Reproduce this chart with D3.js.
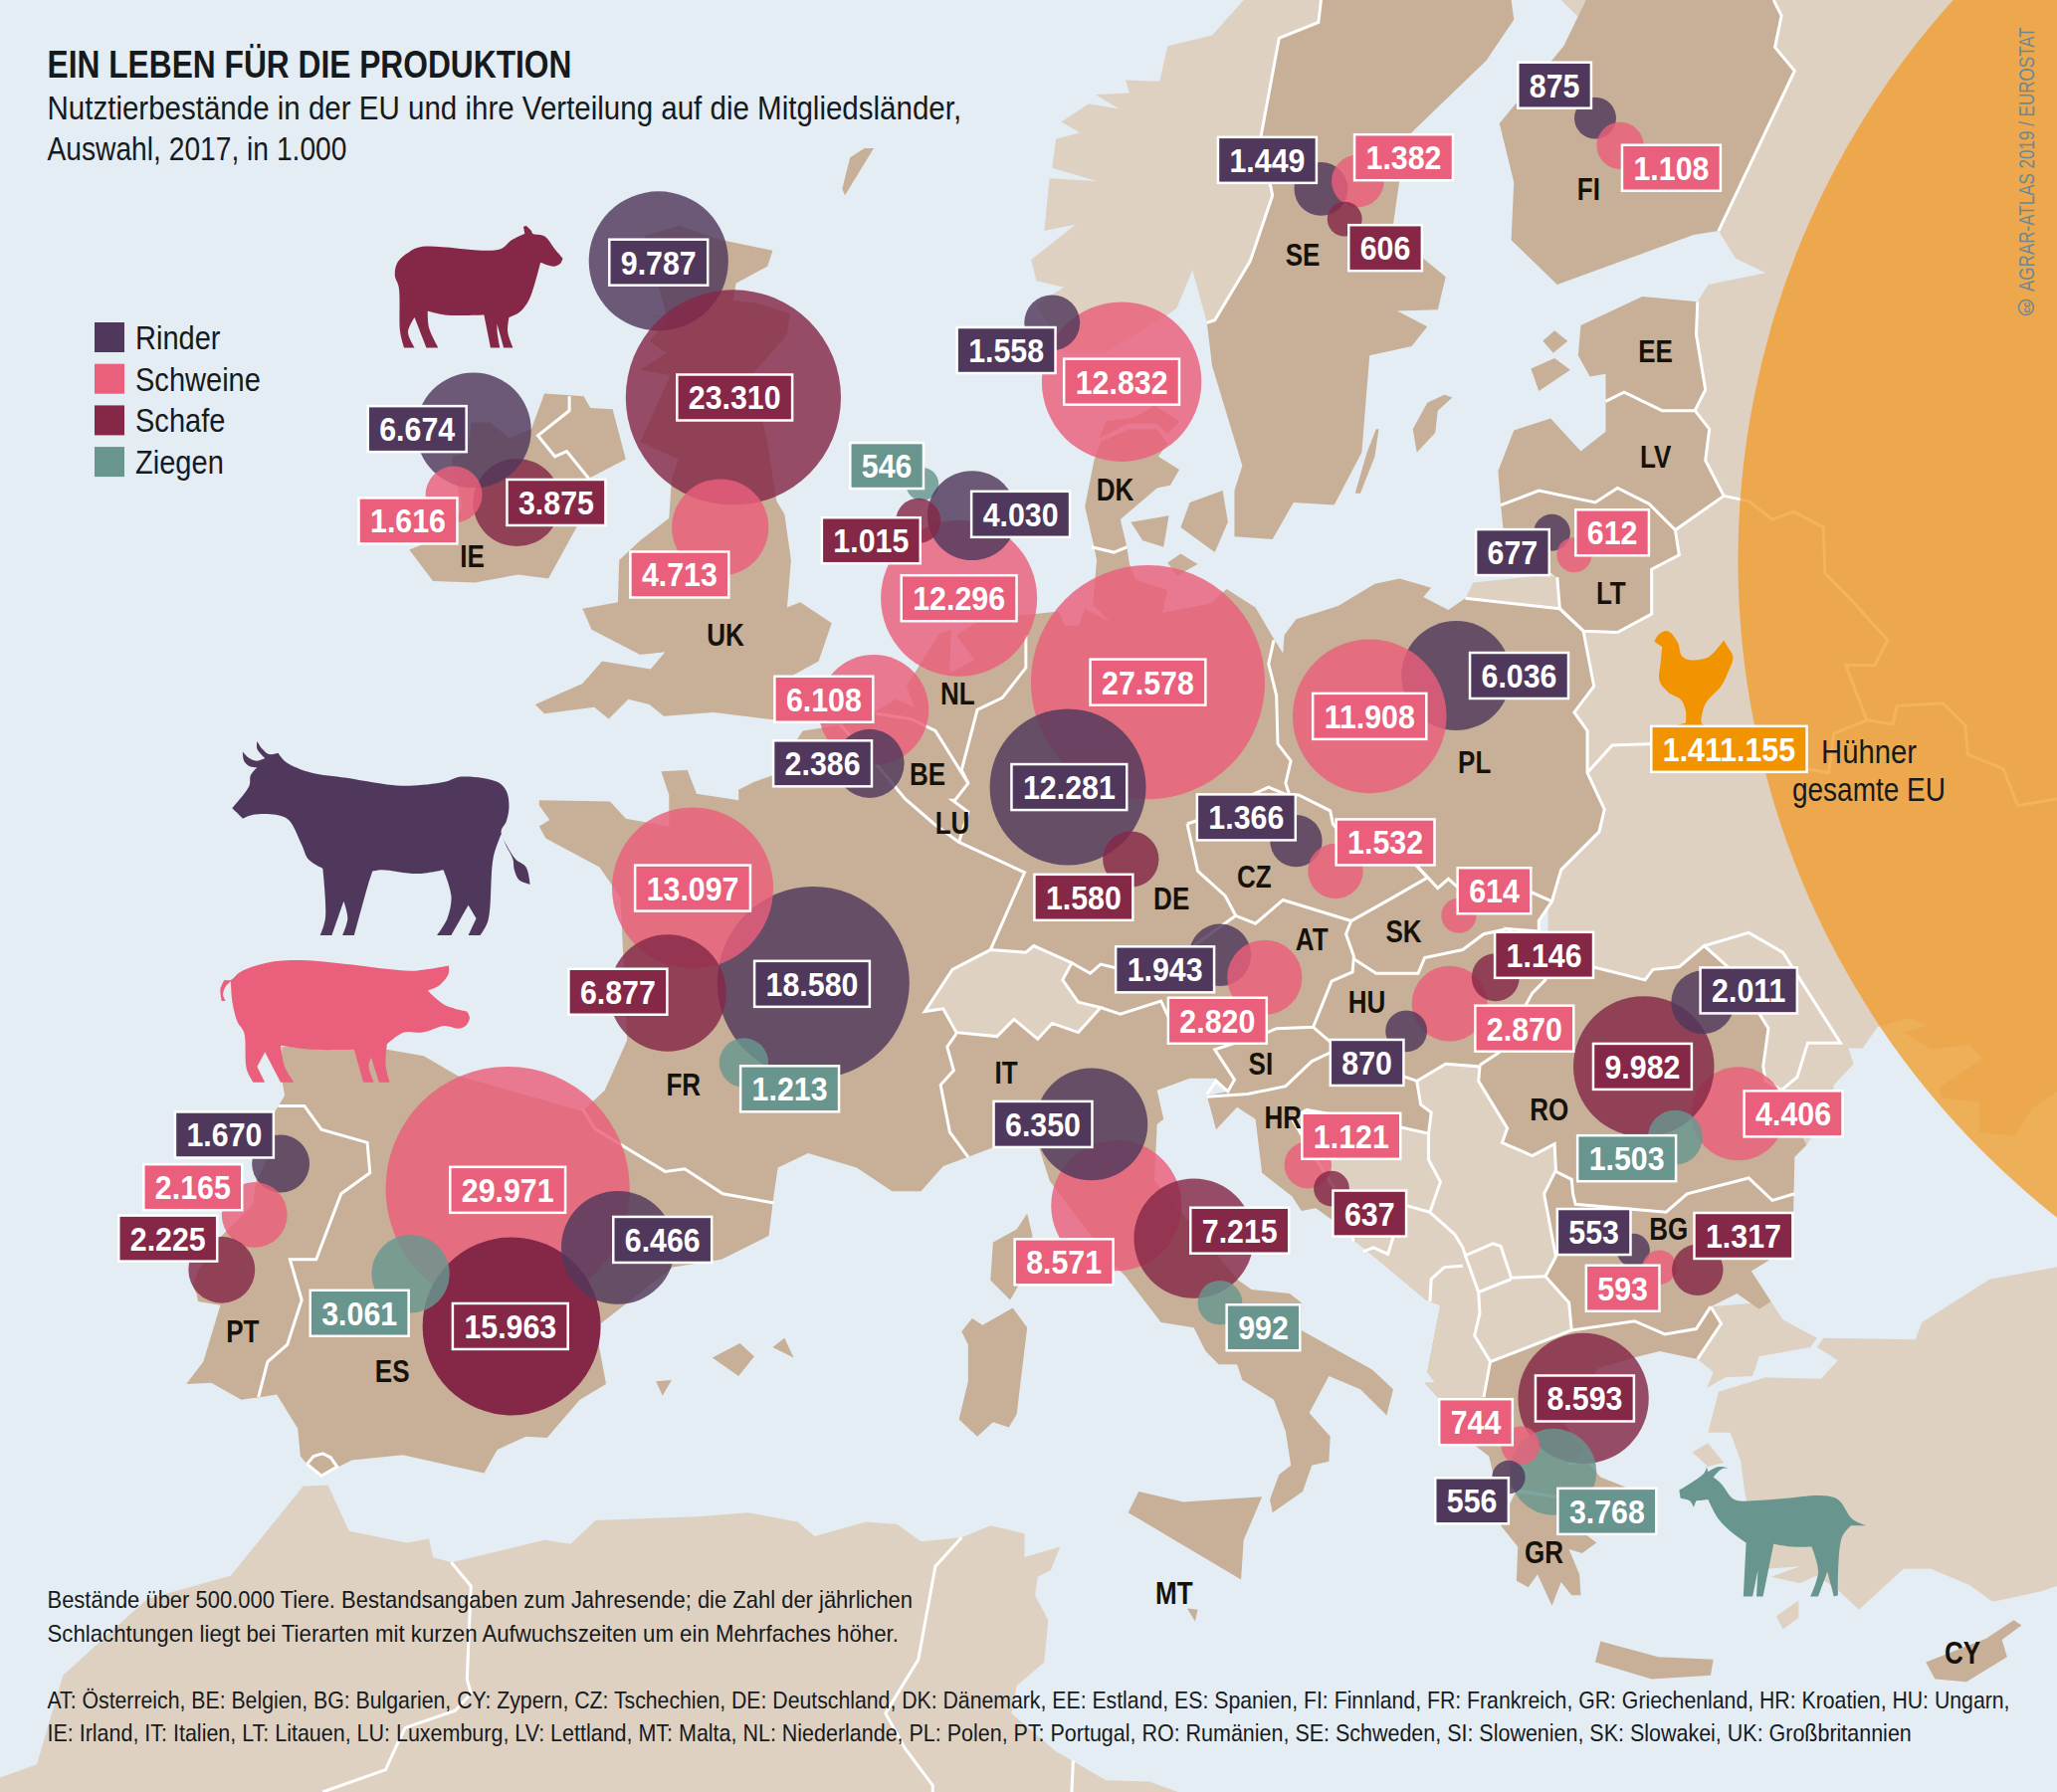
<!DOCTYPE html>
<html>
<head>
<meta charset="utf-8">
<style>
html, body { margin: 0; padding: 0; background: #e4edf4; }
svg { display: block; }
text { font-family: "Liberation Sans", sans-serif; fill: #161a1c; }
</style>
</head>
<body>
<div id="chart"></div>
<script src="https://d3js.org/d3.v7.min.js"></script>
<script>
// animal stocks, in 1.000
var species = ['Rinder', 'Schweine', 'Schafe', 'Ziegen'];
var speciesColors = ['#50385c', '#ea5f7b', '#852848', '#68968f'];

// listed in drawing order, later bubbles lie on top
var bubbleCountry = ['UK','UK','UK','IE','IE','IE','DK','DK','NL','NL','NL','NL','BE','BE','DE','DE','DE','FR','FR','FR','FR','ES','ES','ES','ES','PT','PT','PT','SE','SE','SE','FI','FI','LT','LT','PL','PL','CZ','CZ','SK','AT','AT','HU','HU','HU','RO','RO','RO','RO','IT','IT','IT','IT','HR','HR','BG','BG','BG','GR','GR','GR','GR'];
var bubbleSpecies = [0,2,1,2,0,1,1,0,3,1,0,2,1,0,1,0,2,0,1,2,3,1,2,3,0,0,1,2,0,1,2,0,1,0,1,0,1,0,1,1,0,1,1,0,2,1,2,0,3,1,0,2,3,1,2,0,1,2,2,3,1,0];
var bubbleValues = [9787,23310,4713,3875,6674,1616,12832,1558,546,12296,4030,1015,6108,2386,27578,12281,1580,18580,13097,6877,1213,29971,15963,3061,6466,1670,2165,2225,1449,1382,606,875,1108,677,612,6036,11908,1366,1532,614,1943,2820,2870,870,1146,4406,9982,2011,1503,8571,6350,7215,992,1121,637,553,593,1317,8593,3768,744,556];
var solidBubbles = [15963];

// where each bubble and its value box sit on the map (map units of the drawing)
var bubbleX = [502,559,549,394,361,346,855,802,703,731,741,700,666,663,875,814,862,620,528,509,567,387,390,313,471,214,194,169,1007,1035,1025,1216,1235,1183,1200,1110,1044,988,1018,1112,930,964,1105,1072,1140,1325,1253,1298,1277,851,832,910,930,997,1015,1245,1265,1294,1207,1184,1159,1150];
var bubbleY = [199,303,402,383,328,377,291,246,369,456,393,397,541,582,520,600,655,749,677,757,810,906,1011,971,951,887,926,968,144,138,167,90,111,406,423,515,546,641,664,698,728,745,765,786,745,849,813,764,867,919,857,944,993,888,906,953,966,968,1066,1122,1102,1126];
var labelX = [502,560,518,424,318,311,855,767,676,731,778,664,628,627,875,815,826,619,528,471,602,387,389,274,505,171,147,128,966,1070,1056,1185,1274,1153,1229,1158,1044,950,1056,1139,888,928,1162,1042,1177,1367,1252,1333,1240,811,795,945,963,1030,1044,1215,1237,1329,1208,1225,1125,1122];
var labelY = [200,303,438,383,327,397,291,267,355,456,392,412,533,582,520,600,684,750,677,756,830,907,1011,1001,945,865,905,944,122,120,189,65,128,421,406,515,546,623,642,679,739,778,784,810,728,849,813,755,883,962,857,938,1012,866,925,939,982,942,1066,1152,1084,1144];

var chickenValue = 1411155;

var countryCodes = ['IE','UK','FI','SE','DK','NL','BE','LU','DE','FR','ES','PT','IT','CZ','AT','SK','HU','SI','HR','RO','BG','GR','EE','LV','LT','PL','MT','CY'];
var countryX = [360,553,1211,993,850,730,707,726,893,521,299,185,767,956,1000,1070,1042,961,978,1181,1272,1177,1262,1262,1228,1124,895,1496];
var countryY = [424,484,144,194,373,529,590,627,685,827,1045,1015,818,668,716,710,764,811,852,846,937,1183,268,348,452,581,1214,1260];

// map outlines, traced by hand
var otherLand = [
  // Norwegen
  [[948,0],[924,27],[890,35],[884,62],[858,61],[861,71],[835,72],[853,83],[830,79],[809,93],[823,101],[805,106],[802,128],[836,138],[800,136],[796,176],[820,171],[786,198],[790,214],[811,219],[790,232],[805,258],[812,269],[842,269],[890,240],[897,235],[909,206],[920,246],[926,244],[953,199],[970,149],[961,105],[975,29],[1005,17],[1007,0]],
  // Russland, Belarus, Ukraine, Moldau
  [[1190,0],[1568,0],[1568,832],[1549,845],[1536,866],[1509,863],[1509,840],[1480,837],[1478,829],[1511,807],[1501,796],[1472,800],[1451,787],[1469,782],[1456,776],[1431,783],[1420,799],[1409,799],[1413,811],[1398,827],[1395,845],[1377,873],[1300,800],[1180,720],[1180,500],[1290,330],[1294,230],[1302,217],[1346,208],[1323,197],[1310,176],[1291,100]],
  // Kaliningrad
  [[1123,444],[1181,438],[1186,440],[1189,464],[1117,456]],
  // Thrakien
  [[1350,992],[1359,1006],[1385,1020],[1380,1027],[1341,1034],[1336,1049],[1315,1050],[1301,1058],[1306,1046],[1294,1036],[1312,1009],[1304,996]],
  // Tuerkei
  [[1568,966],[1517,975],[1465,1008],[1460,1021],[1390,1020],[1385,1027],[1401,1037],[1388,1051],[1346,1050],[1310,1061],[1302,1092],[1319,1092],[1327,1114],[1330,1138],[1345,1196],[1372,1194],[1350,1202],[1372,1207],[1385,1201],[1401,1212],[1417,1227],[1451,1196],[1472,1196],[1501,1208],[1519,1221],[1556,1213],[1568,1209]],
  [[1290,1107],[1302,1100],[1314,1115],[1302,1118]],
  [[1354,1232],[1371,1220],[1371,1233],[1359,1242]],
  // Nordafrika
  [[0,1366],[0,1355],[28,1345],[48,1277],[112,1219],[176,1201],[231,1133],[250,1132],[266,1167],[310,1176],[327,1173],[330,1187],[344,1191],[415,1174],[435,1177],[454,1159],[531,1156],[570,1153],[608,1160],[621,1171],[660,1160],[684,1162],[702,1175],[733,1172],[755,1163],[781,1169],[781,1187],[808,1179],[801,1197],[791,1202],[789,1216],[799,1235],[796,1267],[775,1285],[771,1306],[805,1335],[817,1342],[843,1357],[876,1358],[898,1366]]
];

var euLand = [
  // Kontinent, von Galicien ueber Nordsee und Ostsee bis Griechenland und zurueck
  [[215,798],[295,800],[323,805],[349,820],[444,847],[461,831],[478,793],[473,684],[457,661],[416,639],[411,630],[419,625],[411,614],[411,610],[465,611],[477,624],[510,630],[510,606],[504,588],[524,587],[531,605],[563,610],[563,602],[575,596],[589,591],[612,557],[639,553],[668,542],[683,533],[697,539],[691,523],[716,483],[725,480],[724,513],[743,503],[729,484],[748,472],[789,468],[807,466],[812,477],[822,477],[827,464],[846,474],[833,461],[836,427],[834,417],[827,386],[834,351],[839,337],[860,327],[882,327],[890,338],[883,348],[899,358],[892,370],[882,372],[854,396],[859,417],[861,430],[866,442],[890,450],[886,467],[923,460],[935,449],[957,463],[971,487],[978,498],[979,484],[988,472],[1001,468],[1020,462],[1048,445],[1067,441],[1091,448],[1085,455],[1104,465],[1117,456],[1189,464],[1207,481],[1215,523],[1200,543],[1210,557],[1210,589],[1223,617],[1219,634],[1190,663],[1183,687],[1173,702],[1173,710],[1185,730],[1214,737],[1254,747],[1260,739],[1280,737],[1299,721],[1317,737],[1340,771],[1348,784],[1344,813],[1346,824],[1358,831],[1377,873],[1368,882],[1367,928],[1348,961],[1335,969],[1350,992],[1341,998],[1324,986],[1304,996],[1312,1009],[1294,1036],[1265,1030],[1249,1034],[1218,1043],[1193,1086],[1207,1105],[1194,1117],[1210,1115],[1220,1126],[1240,1134],[1225,1145],[1188,1142],[1155,1138],[1151,1146],[1144,1163],[1157,1179],[1156,1205],[1165,1210],[1172,1200],[1183,1224],[1190,1206],[1198,1216],[1205,1216],[1204,1200],[1196,1181],[1206,1184],[1217,1176],[1204,1166],[1186,1140],[1152,1134],[1139,1127],[1135,1110],[1123,1101],[1105,1075],[1086,1054],[1094,1054],[1088,1046],[1098,995],[1087,991],[1049,959],[1034,947],[1017,931],[1003,921],[992,923],[985,912],[962,894],[957,853],[943,844],[927,861],[920,835],[936,832],[927,822],[907,822],[882,831],[887,853],[882,857],[880,900],[944,976],[954,983],[983,986],[992,993],[992,1014],[1046,1044],[1062,1059],[1057,1079],[1037,1059],[1013,1049],[998,1077],[1014,1095],[1013,1114],[1000,1117],[993,1137],[970,1153],[968,1143],[975,1124],[984,1117],[980,1091],[971,1067],[947,1052],[943,1040],[929,1040],[919,1030],[910,1012],[885,1008],[858,973],[851,966],[830,940],[800,900],[790,868],[756,875],[738,882],[719,889],[702,908],[680,908],[653,890],[616,879],[593,890],[590,910],[586,942],[550,960],[513,966],[454,1012],[462,1055],[442,1067],[417,1096],[401,1095],[379,1105],[369,1123],[307,1109],[268,1113],[245,1125],[234,1116],[229,1110],[227,1089],[211,1063],[198,1065],[184,1067],[161,1054],[142,1055],[155,1038],[168,995],[151,992],[150,987],[147,980],[151,969],[169,942],[193,918],[195,901],[203,885],[208,850],[217,835],[214,818]],
  // Nordjuetland
  [[843,321],[865,318],[880,309],[899,321],[890,331],[882,323],[860,323],[838,334]],
  // Grossbritannien
  [[491,180],[518,172],[546,182],[589,191],[585,203],[561,216],[559,229],[577,231],[602,239],[600,255],[573,286],[585,337],[592,382],[598,392],[603,427],[600,463],[610,459],[634,475],[624,504],[595,520],[592,549],[544,543],[531,544],[506,546],[495,537],[479,533],[464,548],[453,539],[415,544],[408,537],[444,521],[459,504],[496,510],[507,497],[488,499],[451,480],[444,464],[471,459],[472,427],[488,412],[510,395],[512,365],[517,350],[488,337],[511,286],[488,282],[508,269],[495,260],[511,242],[493,241],[508,241],[503,221]],
  // Irland
  [[415,300],[445,302],[450,311],[467,312],[477,350],[450,364],[440,401],[418,441],[395,438],[362,444],[330,443],[312,419],[345,406],[352,385],[345,356],[345,348],[357,345],[359,322],[374,322],[388,334],[405,327]],
  // Schweden
  [[1007,0],[1152,0],[1154,15],[1133,46],[1075,102],[1067,136],[1062,171],[1070,190],[1085,197],[1102,211],[1096,236],[1065,237],[1088,249],[1076,264],[1044,271],[1038,345],[1017,385],[986,383],[970,411],[941,409],[941,374],[947,355],[924,279],[920,246],[926,244],[953,199],[970,149],[961,105],[975,29],[1005,17]],
  // Finnland
  [[1209,0],[1192,35],[1143,94],[1154,139],[1152,183],[1187,217],[1291,179],[1310,176],[1368,54],[1353,36],[1358,12],[1352,0]],
  // Estland
  [[1205,248],[1252,226],[1294,230],[1293,255],[1300,297],[1292,313],[1267,313],[1238,299],[1224,306],[1224,285],[1212,287],[1203,271]],
  // Lettland und Litauen
  [[1224,306],[1238,299],[1267,313],[1292,313],[1303,327],[1300,351],[1314,378],[1277,404],[1280,423],[1259,434],[1259,468],[1233,482],[1207,481],[1189,464],[1186,440],[1146,405],[1144,385],[1142,359],[1154,328],[1182,319],[1205,344],[1224,329]],
  // Inseln
  [[659,113],[666,113],[644,149],[642,144],[648,120]],
  [[862,398],[891,393],[887,417],[871,412]],
  [[907,383],[932,374],[936,398],[926,421],[900,402]],
  [[890,429],[900,422],[913,430],[897,439]],
  [[1049,327],[1051,327],[1048,348],[1037,376],[1033,376],[1042,345]],
  [[1077,327],[1088,307],[1101,301],[1107,303],[1096,313],[1094,330],[1080,345]],
  [[1176,260],[1185,252],[1195,260],[1184,269]],
  [[1167,281],[1185,273],[1197,282],[1173,298]],
  [[543,1035],[564,1024],[575,1034],[563,1049]],
  [[589,1027],[598,1020],[605,1035]],
  [[500,1053],[512,1052],[505,1064]],
  [[783,925],[787,942],[782,970],[770,991],[755,976],[757,947],[775,937]],
  [[772,997],[783,1012],[775,1078],[769,1088],[757,1084],[745,1095],[731,1082],[738,1053],[738,1025],[733,1015],[741,1005],[749,1010]],
  [[868,1137],[902,1145],[962,1141],[948,1174],[946,1204],[860,1153]],
  [[905,1226],[913,1227],[911,1236]],
  [[1220,1251],[1264,1263],[1306,1265],[1304,1277],[1259,1280],[1216,1267]],
  [[1468,1267],[1514,1249],[1535,1235],[1541,1239],[1526,1250],[1530,1263],[1499,1282],[1475,1280]]
];

// non-EU pieces that lie inside the continent outline
var switzerland = [[755,724],[782,726],[788,721],[817,734],[810,747],[822,764],[839,768],[822,787],[802,780],[791,792],[773,777],[760,790],[729,787],[719,769],[705,771],[726,739]];
var westBalkan = [[985,853],[996,846],[1062,858],[1089,864],[1091,848],[1083,842],[1080,824],[1102,811],[1128,813],[1127,824],[1149,860],[1145,871],[1168,881],[1185,872],[1186,892],[1177,910],[1186,958],[1178,973],[1196,993],[1198,1014],[1136,1038],[1131,1065],[1105,1075],[1086,1054],[1094,1054],[1088,1046],[1098,995],[1087,991],[1049,959],[1034,947],[1019,909],[1004,885]];

var borders = [
  [[1352,0],[1358,12],[1353,36],[1368,54],[1310,176]],
  [[1007,0],[1005,17],[975,29],[961,105],[970,149],[953,199],[926,244],[920,246]],
  [[1294,230],[1293,255],[1300,297],[1292,313],[1303,327],[1300,351],[1314,378],[1277,404],[1280,423],[1259,434],[1259,468],[1233,482],[1207,481],[1189,464],[1187,440]],
  [[1224,306],[1238,299],[1267,313],[1292,313]],
  [[1144,385],[1173,374],[1216,383],[1233,372],[1257,384],[1277,404]],
  [[1314,378],[1333,382],[1351,396],[1367,390],[1390,402],[1391,437],[1409,455],[1439,488],[1429,507],[1407,507],[1423,549],[1443,552],[1446,538],[1481,536],[1498,553],[1500,575],[1527,586],[1538,614],[1568,609]],
  [[1423,549],[1398,559],[1394,589],[1262,567],[1229,568],[1210,589]],
  [[1117,456],[1189,464],[1207,481],[1215,523],[1200,543],[1210,557],[1210,589],[1223,617],[1219,634],[1190,663],[1183,687],[1173,702],[1173,710],[1149,708],[1178,735],[1214,737],[1254,747],[1260,739],[1280,737],[1299,721],[1317,737],[1340,771],[1348,784],[1344,813],[1346,824],[1358,831]],
  [[1299,721],[1333,711],[1359,726],[1403,795],[1378,795],[1370,821],[1358,831]],
  [[832,417],[849,421],[859,417]],
  [[434,302],[434,313],[410,332],[423,348],[432,344],[449,365]],
  [[444,845],[453,860],[474,873],[507,893],[522,891],[551,910],[590,917]],
  [[212,843],[232,843],[245,861],[280,871],[282,894],[260,910],[241,960],[221,960],[230,991],[219,1025],[204,1038],[197,1065]],
  [[234,1116],[239,1110],[246,1108],[252,1111],[257,1118],[245,1125],[234,1116]],
  [[729,788],[722,798],[727,816],[717,827],[724,863],[738,882]],
  [[755,724],[781,665],[731,642],[712,628],[690,609],[666,580],[640,552]],
  [[668,544],[694,548],[713,557],[738,597],[728,610],[726,610],[738,619],[731,642]],
  [[782,484],[782,509],[764,532],[745,541],[733,587],[738,597]],
  [[971,488],[967,506],[973,530],[974,567],[984,580],[980,597],[983,606]],
  [[905,628],[914,625],[954,606],[967,600],[981,606],[990,606],[1014,618],[1016,628],[1020,633],[1050,650],[1080,660],[1096,677],[1104,670],[1112,677],[1167,680],[1183,687]],
  [[905,628],[913,664],[934,683],[942,698],[957,704],[978,686],[1030,702],[1062,684],[1088,669],[1080,660]],
  [[1030,702],[1026,712],[1032,729],[1031,741],[1015,748],[1001,783],[973,784],[966,787],[926,800],[941,823],[936,832],[927,824],[920,834]],
  [[1032,731],[1049,742],[1081,742],[1086,730],[1115,724],[1131,712],[1149,708]],
  [[839,768],[854,773],[885,763],[890,774],[926,795]],
  [[817,734],[831,742],[839,735],[851,738],[905,725],[914,718],[942,698]],
  [[1001,783],[1015,795],[1015,802],[1000,809],[980,828],[951,834],[920,836]],
  [[1015,795],[1045,812],[1080,824]],
  [[1128,812],[1143,802],[1162,768],[1168,757],[1178,747],[1178,735]],
  [[1199,910],[1201,918],[1270,924],[1286,910],[1333,898],[1351,915],[1368,910]],
  [[1304,996],[1293,1013],[1269,1017],[1246,1007],[1198,1014]],
  [[1304,996],[1312,1009],[1294,1036]],
  [[1186,893],[1198,899],[1199,910]],
  // Westbalkan
  [[985,853],[996,846],[1062,858],[1089,864],[1091,848],[1083,842],[1080,824],[1102,811],[1128,813],[1127,824],[1149,860],[1145,871],[1168,881],[1185,872],[1186,892],[1177,910],[1186,958],[1178,973],[1196,993],[1198,1014],[1136,1038],[1131,1065]],
  [[985,853],[1004,885],[1019,909],[1032,946]],
  [[1039,954],[1047,951],[1058,956],[1062,943]],
  [[1089,864],[1089,884],[1098,901],[1090,924],[1109,941],[1115,951],[1117,957],[1138,948],[1144,950],[1152,974],[1178,973]],
  [[1117,957],[1127,985],[1128,1001],[1124,1018],[1136,1038]],
  [[1127,985],[1152,975]],
  [[1115,965],[1101,966],[1091,975],[1090,992]],
  [[1072,919],[1090,924]],
  // Nordafrika
  [[344,1191],[359,1209],[356,1280],[359,1291],[347,1304],[309,1317],[303,1329],[294,1349],[246,1366]],
  [[733,1172],[713,1194],[700,1265],[675,1306],[690,1333],[711,1361],[711,1366]],
  [[818,1342],[817,1366]]
];

// animal silhouettes, map units
var sheepShape = [[401,172],[405,176],[406,178],[415,180],[423,190],[429,197],[427,201],[422,203],[412,200],[408,215],[403,229],[396,238],[388,242],[387,253],[391,265],[384,265],[379,247],[379,253],[381,265],[374,265],[369,240],[339,240],[326,237],[327,250],[334,265],[325,265],[316,242],[311,253],[316,265],[308,265],[305,253],[304,219],[301,210],[303,200],[312,192],[322,188],[381,190],[390,183],[400,178],[399,173]];
var cowShape = [[196,565],[200,571],[205,575],[212,574],[218,581],[237,589],[264,593],[295,598],[312,599],[339,596],[352,592],[379,596],[386,603],[388,615],[386,626],[382,634],[386,644],[393,655],[401,661],[404,674],[396,671],[392,663],[391,655],[386,645],[382,636],[376,654],[372,702],[366,713],[357,713],[363,700],[357,690],[344,713],[333,713],[341,700],[344,683],[338,663],[318,666],[291,663],[284,664],[281,673],[270,713],[261,713],[265,700],[262,687],[253,713],[244,713],[248,700],[246,662],[235,655],[230,644],[220,625],[210,621],[193,621],[185,624],[180,619],[177,616],[190,599],[191,591],[196,585],[190,584],[186,580],[185,573],[190,578],[196,580],[202,578],[196,571]];
var pigShape = [[176,747],[183,741],[203,734],[230,732],[264,735],[298,739],[315,740],[342,736],[342,742],[335,751],[326,755],[339,766],[356,771],[358,776],[355,782],[349,784],[339,782],[322,787],[308,787],[295,796],[294,812],[297,825],[289,825],[283,806],[281,812],[285,825],[277,825],[270,800],[237,800],[214,797],[217,813],[224,825],[214,825],[202,802],[196,813],[202,825],[193,825],[188,815],[186,787],[181,779],[177,763],[176,748],[172,752],[170,758],[172,763],[169,763],[168,754],[171,747]];
var goatShape = [[1301,1118],[1302,1122],[1310,1118],[1318,1119],[1312,1120],[1306,1126],[1312,1131],[1322,1143],[1336,1144],[1362,1142],[1388,1140],[1401,1143],[1412,1158],[1423,1163],[1411,1163],[1404,1172],[1401,1216],[1398,1217],[1393,1198],[1386,1217],[1380,1217],[1386,1198],[1381,1179],[1365,1179],[1352,1177],[1344,1217],[1339,1217],[1340,1197],[1336,1217],[1329,1217],[1331,1176],[1320,1168],[1310,1158],[1302,1143],[1293,1144],[1291,1149],[1288,1144],[1281,1142],[1280,1136],[1299,1123]];
var chickenShape = [[1261,489],[1264,484],[1269,481],[1273,482],[1279,490],[1282,500],[1288,503],[1302,501],[1314,488],[1317,493],[1321,501],[1317,513],[1312,523],[1301,535],[1298,542],[1297,551],[1299,553],[1278,553],[1285,551],[1285,542],[1281,533],[1272,528],[1265,519],[1266,504],[1267,493]];

var chartWidth = 2067, chartHeight = 1801;

var svg = d3.select('#chart').append('svg')
    .attr('width', chartWidth)
    .attr('height', chartHeight);

var x = d3.scaleLinear().domain([0, 1568]).range([0, chartWidth]);
var y = d3.scaleLinear().domain([0, 1366]).range([0, chartHeight]);
// bubble area follows the value, 29.971 has a radius of 122.6px
var radius = d3.scaleSqrt().domain([0, 29971]).range([0, 122.6]);
var color = d3.scaleOrdinal().domain(d3.range(species.length)).range(speciesColors);
var formatValue = d3.formatLocale({ decimal: ',', thousands: '.', grouping: [3], currency: ['', ''] }).format(',d');

var line = d3.line().x(function(d) { return x(d[0]); }).y(function(d) { return y(d[1]); });
var area = function(d) { return line(d) + 'Z'; };
var softLine = d3.line().x(function(d) { return x(d[0]); }).y(function(d) { return y(d[1]); })
    .curve(d3.curveCatmullRomClosed.alpha(0.5));

// smooth outline, but a doubled point keeps hard corners (hooves, ears) sharp
function soft(shape) {
    var n = shape.length, pts = [];
    shape.forEach(function(p, i) {
        var a = shape[(i + n - 1) % n], b = shape[(i + 1) % n];
        var turn = Math.abs(Math.atan2(b[1] - p[1], b[0] - p[0]) - Math.atan2(p[1] - a[1], p[0] - a[0]));
        if (turn > Math.PI) turn = 2 * Math.PI - turn;
        pts.push(p);
        if (turn > 0.9) pts.push(p);
    });
    return softLine(pts);
}

svg.append('rect').attr('width', chartWidth).attr('height', chartHeight).attr('fill', '#e4edf4');

var map = svg.append('g');
map.selectAll('.other').data(otherLand).enter().append('path')
    .attr('d', area).attr('fill', '#dfd1c1');
map.selectAll('.eu').data(euLand).enter().append('path')
    .attr('d', area).attr('fill', '#c7b097');
map.append('path').attr('d', area(westBalkan)).attr('fill', '#dfd1c1');
map.append('path').attr('d', area(switzerland)).attr('fill', '#dfd1c1').attr('stroke', '#fff').attr('stroke-width', 3);
map.selectAll('.border').data(borders).enter().append('path')
    .attr('d', line).attr('fill', 'none').attr('stroke', '#fff').attr('stroke-width', 3);

// country codes sit under the bubbles
svg.selectAll('.code').data(countryCodes).enter().append('text')
    .attr('transform', function(d, i) {
        return 'translate(' + x(countryX[i]) + ',' + (y(countryY[i]) + 11) + ') scale(0.84,1)';
    })
    .attr('text-anchor', 'middle')
    .attr('font-weight', 700)
    .attr('font-size', 31)
    .style('fill', '#16120a')
    .text(function(d) { return d; });

svg.append('circle')
    .attr('cx', x(1963)).attr('cy', 563)
    .attr('r', radius(chickenValue))
    .attr('fill', '#f29a25').attr('fill-opacity', 0.75);

svg.selectAll('.bubble').data(bubbleValues).enter().append('circle')
    .attr('cx', function(d, i) { return x(bubbleX[i]); })
    .attr('cy', function(d, i) { return y(bubbleY[i]); })
    .attr('r', function(d) { return radius(d); })
    .attr('fill', function(d, i) { return color(bubbleSpecies[i]); })
    .attr('fill-opacity', function(d) { return solidBubbles.indexOf(d) >= 0 ? 1 : 0.82; });

// silhouettes
var shapes = [sheepShape, cowShape, pigShape, goatShape];
var shapeSpecies = [2, 0, 1, 3];
svg.selectAll('.animal').data(shapes).enter().append('path')
    .attr('d', soft)
    .attr('fill', function(d, i) { return color(shapeSpecies[i]); });
svg.append('path').attr('d', soft(chickenShape)).attr('fill', '#f29400');

// value boxes, width taken from the text
function valueBox(value, fill, cx, cy) {
    var g = svg.append('g').attr('transform', 'translate(' + x(cx) + ',' + y(cy) + ')');
    var rect = g.append('rect');
    var label = g.append('text')
        .attr('text-anchor', 'middle')
        .attr('font-weight', 700)
        .attr('font-size', 33)
        .attr('transform', 'translate(0,12) scale(0.92,1)')
        .style('fill', '#fff')
        .text(formatValue(value));
    var w = label.node().getComputedTextLength() * 0.92 + 23;
    rect.attr('x', -w / 2).attr('y', -23).attr('width', w).attr('height', 46)
        .attr('fill', fill)
        .attr('stroke', '#fff').attr('stroke-width', 2.5);
}

bubbleValues.forEach(function(d, i) {
    valueBox(d, color(bubbleSpecies[i]), labelX[i], labelY[i]);
});
valueBox(chickenValue, '#f29400', 1318, 571);

// legend
var legend = svg.selectAll('.legend').data(species).enter().append('g')
    .attr('transform', function(d, i) { return 'translate(95,' + (324 + i * 41.7) + ')'; });
legend.append('rect').attr('width', 30).attr('height', 30)
    .attr('fill', function(d, i) { return color(i); });
legend.append('text').attr('transform', 'translate(41,27) scale(0.88,1)').attr('font-size', 33)
    .text(function(d) { return d; });

// texts, squeezed to the measured width of the reference lines
function fitted(str, px, py, size, width, weight, rotate) {
    var t = svg.append('text').attr('font-size', size)
        .attr('font-weight', weight || 400)
        .text(str);
    var k = width / t.node().getComputedTextLength();
    t.attr('transform', 'translate(' + px + ',' + py + ')' + (rotate ? ' rotate(-90)' : '') + ' scale(' + k + ',1)');
    return t;
}
fitted('EIN LEBEN FÜR DIE PRODUKTION', 47.5, 78, 38, 527, 700);
fitted('Nutztierbestände in der EU und ihre Verteilung auf die Mitgliedsländer,', 47.5, 119.5, 33, 919);
fitted('Auswahl, 2017, in 1.000', 47.5, 160.5, 33, 301);
fitted('Bestände über 500.000 Tiere. Bestandsangaben zum Jahresende; die Zahl der jährlichen', 47.5, 1616, 24, 870);
fitted('Schlachtungen liegt bei Tierarten mit kurzen Aufwuchszeiten um ein Mehrfaches höher.', 47.5, 1650, 24, 856);
fitted('AT: Österreich, BE: Belgien, BG: Bulgarien, CY: Zypern, CZ: Tschechien, DE: Deutschland, DK: Dänemark, EE: Estland, ES: Spanien, FI: Finnland, FR: Frankreich, GR: Griechenland, HR: Kroatien, HU: Ungarn,', 47.5, 1717, 24, 1973);
fitted('IE: Irland, IT: Italien, LT: Litauen, LU: Luxemburg, LV: Lettland, MT: Malta, NL: Niederlande, PL: Polen, PT: Portugal, RO: Rumänien, SE: Schweden, SI: Slowenien, SK: Slowakei, UK: Großbritannien', 47.5, 1750, 24, 1874);
fitted('Hühner', 1830, 767, 33, 96);
fitted('gesamte EU', 1801, 805, 33, 154);

// source line with the little cc mark
fitted('AGRAR-ATLAS 2019 / EUROSTAT', 2044, 293, 22, 266, 400, true).style('fill', '#6f8794');
svg.append('circle').attr('cx', 2036).attr('cy', 309).attr('r', 7.5)
    .attr('fill', 'none').attr('stroke', '#6f8794').attr('stroke-width', 1.5);
svg.append('text').attr('transform', 'translate(2039.5,309) rotate(-90)')
    .attr('text-anchor', 'middle').attr('font-size', 10).attr('font-weight', 700)
    .style('fill', '#6f8794').text('cc');
</script>
</body>
</html>
